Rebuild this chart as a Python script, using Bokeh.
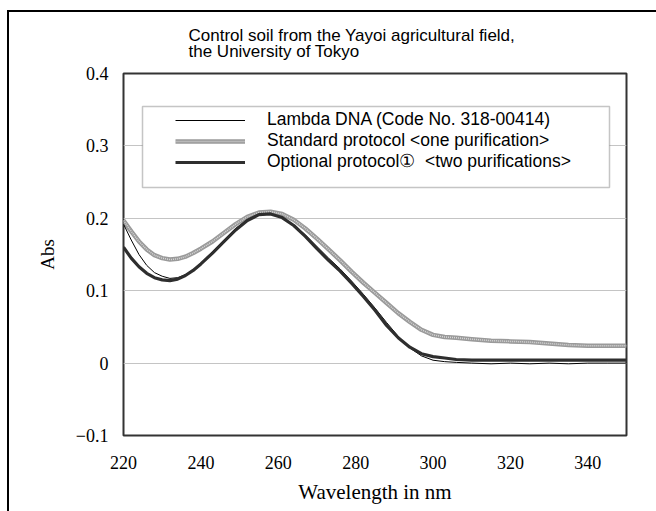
from bokeh.plotting import figure
from bokeh.models import (BoxAnnotation, Legend, LegendItem, FixedTicker,
                          ColumnDataSource)
from bokeh.embed import file_html
from bokeh.resources import INLINE

# ---------------- data ----------------
wavelength = [220, 222, 224, 226, 228, 230, 232, 234, 236, 238, 240, 243, 246, 249,
              252, 255, 258, 261, 264, 267, 270, 273, 276, 279, 282, 285, 288, 291,
              294, 297, 300, 303, 306, 310, 315, 320, 325, 330, 335, 340, 345, 350]

lambda_dna = [0.192, 0.170, 0.150, 0.135, 0.125, 0.120, 0.117, 0.118, 0.122, 0.129,
              0.138, 0.154, 0.170, 0.186, 0.198, 0.205, 0.206, 0.201, 0.191, 0.177,
              0.161, 0.145, 0.130, 0.113, 0.095, 0.076, 0.056, 0.037, 0.021, 0.010,
              0.004, 0.002, 0.001, 0.000, -0.001, 0.000, -0.001, 0.000, -0.001,
              0.000, 0.000, 0.000]

standard = [0.197, 0.182, 0.168, 0.157, 0.149, 0.145, 0.143, 0.144, 0.147, 0.152,
            0.158, 0.168, 0.180, 0.192, 0.202, 0.208, 0.209, 0.206, 0.198, 0.186,
            0.172, 0.157, 0.142, 0.126, 0.111, 0.097, 0.083, 0.069, 0.057, 0.046,
            0.039, 0.036, 0.035, 0.033, 0.031, 0.030, 0.029, 0.027, 0.025, 0.024,
            0.024, 0.024]

optional = [0.160, 0.145, 0.133, 0.124, 0.118, 0.115, 0.114, 0.116, 0.121, 0.128,
            0.137, 0.152, 0.168, 0.184, 0.197, 0.205, 0.206, 0.201, 0.190, 0.175,
            0.158, 0.142, 0.127, 0.110, 0.092, 0.073, 0.052, 0.035, 0.022, 0.013,
            0.009, 0.007, 0.005, 0.004, 0.004, 0.004, 0.004, 0.004, 0.004, 0.004,
            0.004, 0.004]

series_names = ["Lambda DNA (Code No. 318-00414)",
                "Standard protocol <one purification>",
                "Optional protocol\u2460  <two purifications>"]

x_ticks = [220, 240, 260, 280, 300, 320, 340]
y_ticks = [-0.1, 0.0, 0.1, 0.2, 0.3, 0.4]
y_tick_labels = ["\u22120.1", "0", "0.1", "0.2", "0.3", "0.4"]

title_text = "Control soil from the Yayoi agricultural field,\nthe University of Tokyo"
x_label = "Wavelength in nm"
y_label = "Abs"

# ---------------- figure ----------------
p = figure(frame_width=503, frame_height=362,
           min_border_left=114, min_border_right=30,
           min_border_top=61, min_border_bottom=76,
           x_range=(220, 350), y_range=(-0.1, 0.4),
           output_backend="svg", toolbar_location=None,
           title=title_text,
           styles={"margin-left": "7px", "margin-top": "10px",
                   "border-left": "2px solid black",
                   "border-top": "2px solid black"})

p.title.text_font = "Liberation Sans"
p.title.text_font_size = "17px"
p.title.text_font_style = "normal"
p.title.text_color = "black"
p.title.text_line_height = 0.85
p.title.align = "left"
p.title.offset = 65
p.title.standoff = 24

p.background_fill_color = "white"
p.border_fill_color = "white"
p.outline_line_color = "#333333"
p.outline_line_width = 2

p.xgrid.visible = False
p.ygrid.grid_line_color = "#c4c4c4"
p.ygrid.grid_line_width = 1
p.ygrid.ticker = FixedTicker(ticks=y_ticks)

p.xaxis.ticker = FixedTicker(ticks=x_ticks)
p.yaxis.ticker = FixedTicker(ticks=y_ticks)
p.yaxis.major_label_overrides = {t: lab for t, lab in zip(y_ticks, y_tick_labels)}

for ax in (p.xaxis[0], p.yaxis[0]):
    ax.axis_line_color = None
    ax.major_tick_line_color = None
    ax.minor_tick_line_color = None
    ax.major_tick_out = 0
    ax.major_tick_in = 0
    ax.major_label_text_font = "Liberation Serif"
    ax.major_label_text_font_size = "18px"
    ax.major_label_text_color = "black"
    ax.axis_label_text_font = "Liberation Serif"
    ax.axis_label_text_font_style = "normal"
    ax.axis_label_text_color = "black"

p.xaxis.major_label_standoff = 20
p.yaxis.major_label_standoff = 15
p.xaxis.axis_label = x_label
p.xaxis.axis_label_text_font_size = "21px"
p.xaxis.axis_label_standoff = 8
p.yaxis.axis_label = y_label
p.yaxis.axis_label_text_font_size = "19px"
p.yaxis.axis_label_standoff = 15

src = ColumnDataSource(dict(x=wavelength, lam=lambda_dna, std=standard, opt=optional))

r_std_base = p.line("x", "std", source=src, line_color="#9a9a9a", line_width=4.5,
                    line_join="round")
r_std_dots = p.line("x", "std", source=src, line_color="#d8d8d8", line_width=1.5,
                    line_dash="1 1")
r_lam = p.line("x", "lam", source=src, line_color="black", line_width=1,
               line_join="round")
r_opt = p.line("x", "opt", source=src, line_color="#2e2e2e", line_width=3.2,
               line_join="round")

# legend box
leg_box = BoxAnnotation(left=131, right=598, top=92, bottom=173,
                        left_units="canvas", right_units="canvas",
                        top_units="canvas", bottom_units="canvas",
                        fill_color="white", fill_alpha=1,
                        line_color="#404040", line_width=1.5)
p.add_layout(leg_box)

legend = Legend(items=[LegendItem(label=series_names[0], renderers=[r_lam]),
                       LegendItem(label=series_names[1], renderers=[r_std_base, r_std_dots]),
                       LegendItem(label=series_names[2], renderers=[r_opt])],
                location=(52, 263), padding=0, margin=0, spacing=0,
                glyph_width=70, glyph_height=18, label_height=18,
                label_standoff=22, border_line_color=None,
                background_fill_alpha=0,
                label_text_font="Liberation Sans", label_text_font_size="17.5px",
                label_text_color="black")
p.add_layout(legend)

open("out.html", "w").write(file_html(p, INLINE))
